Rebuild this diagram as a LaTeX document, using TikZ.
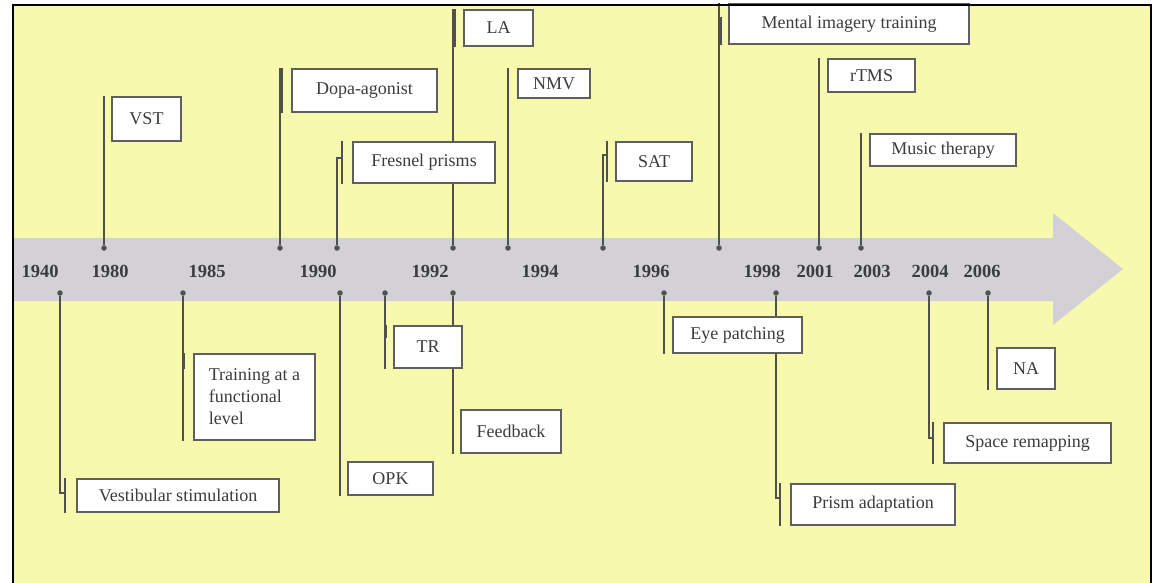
\documentclass[tikz,border=0pt]{standalone}
\usepackage{fontspec}
\setmainfont{Liberation Serif}
\usetikzlibrary{calc}
\definecolor{bgyellow}{RGB}{247,249,172}
\definecolor{shaftgray}{RGB}{211,209,214}
\definecolor{linegray}{RGB}{80,80,80}
\definecolor{boxgray}{RGB}{95,95,95}
\definecolor{txtgray}{RGB}{60,60,60}
\pgfdeclarelayer{bg}
\pgfdeclarelayer{lines}
\pgfsetlayers{bg,lines,main}
\newcommand\evfont{\fontsize{18}{22}\selectfont}
\newcommand\yrfont{\fontsize{18.5}{20}\selectfont\bfseries}
\tikzset{
  evbox/.style={draw=boxgray, fill=white, line width=1.7pt, text=txtgray, inner sep=0pt, font=\evfont},
  conn/.style={draw=linegray, line width=1.5pt},
  evdot/.style={circle, fill=linegray, inner sep=0pt, minimum size=5.5pt},
  year/.style={font=\yrfont, text=txtgray, inner sep=0pt}
}
\begin{document}
\begin{tikzpicture}[x=1pt,y=-1pt]
\clip (0,0) rectangle (1157,583);
\begin{pgfonlayer}{bg}
  \fill[white] (0,0) rectangle (1157,583);
  \fill[bgyellow] (13,5) rectangle (1151,590);
  \fill[shaftgray] (13,238) -- (1053,238) -- (1053,213) -- (1123,269) -- (1053,325) -- (1053,301) -- (13,301) -- cycle;
\end{pgfonlayer}

% years
\foreach \yr/\xx in {1940/40,1980/110,1985/207,1990/318,1992/430,1994/540,1996/651,1998/762,2001/815,2003/872,2004/930,2006/982}
  \node[year] (y\yr) at (\xx,271) {\yr};

% top dots
\node[evdot] (dVST) at (104,248) {};
\node[evdot] (dDopa) at (280,248) {};
\node[evdot] (dFres) at (337,248) {};
\node[evdot] (dLA) at (453,248) {};
\node[evdot] (dNMV) at (508,248) {};
\node[evdot] (dSAT) at (603,248) {};
\node[evdot] (dMent) at (719,248) {};
\node[evdot] (drTMS) at (819,248) {};
\node[evdot] (dMus) at (861,248) {};
% bottom dots
\node[evdot] (dVest) at (60,293) {};
\node[evdot] (dTrain) at (183,293) {};
\node[evdot] (dOPK) at (340,293) {};
\node[evdot] (dTR) at (385,293) {};
\node[evdot] (dFeed) at (453,293) {};
\node[evdot] (dEye) at (664,293) {};
\node[evdot] (dPrism) at (776,293) {};
\node[evdot] (dSpace) at (929,293) {};
\node[evdot] (dNA) at (988,293) {};

% boxes
\node[evbox, minimum width=69pt, minimum height=44pt] (VST) at (146.5,119) {VST};
\node[evbox, minimum width=145pt, minimum height=43pt] (Dopa) at (364.5,90.5) {Dopa-agonist};
\node[evbox, minimum width=142pt, minimum height=41pt] (Fres) at (424,162.5) {Fresnel prisms};
\node[evbox, minimum width=69pt, minimum height=36pt] (LA) at (498.5,28) {LA};
\node[evbox, minimum width=72pt, minimum height=29pt] (NMV) at (554,83.5) {NMV};
\node[evbox, minimum width=76pt, minimum height=39pt] (SAT) at (654,161.5) {SAT};
\node[evbox, minimum width=240pt, minimum height=40pt] (Ment) at (849,24) {Mental imagery training};
\node[evbox, minimum width=87pt, minimum height=33pt] (rTMS) at (871.5,75.5) {rTMS};
\node[evbox, minimum width=146pt, minimum height=32pt] (Mus) at (943,150) {Music therapy};
\node[evbox, minimum width=202pt, minimum height=33pt] (Vest) at (178,495.5) {Vestibular stimulation};
\node[evbox, minimum width=121pt, minimum height=86pt, align=left] (Train) at (254.5,397) {Training at a\\functional\\level};
\node[evbox, minimum width=85pt, minimum height=33pt] (OPK) at (390.5,478.5) {OPK};
\node[evbox, minimum width=68pt, minimum height=42pt] (TR) at (428,347) {TR};
\node[evbox, minimum width=100pt, minimum height=43pt] (Feed) at (511,431.5) {Feedback};
\node[evbox, minimum width=129pt, minimum height=36pt] (Eye) at (737.5,335) {Eye patching};
\node[evbox, minimum width=164pt, minimum height=41pt] (Prism) at (873,504.5) {Prism adaptation};
\node[evbox, minimum width=167pt, minimum height=40pt] (Space) at (1027.5,443) {Space remapping};
\node[evbox, minimum width=58pt, minimum height=41pt] (NA) at (1026,368.5) {NA};

% connectors
\begin{pgfonlayer}{lines}
  % straight, top
  \draw[conn] (dVST) -- (dVST |- VST.north);
  \draw[conn] (dNMV) -- (dNMV |- NMV.north);
  \draw[conn] (drTMS) -- (drTMS |- rTMS.north);
  \draw[conn] (dMus) -- (dMus |- Mus.north);
  \draw[conn] (dDopa) -- (dDopa |- Dopa.north);
  \draw[conn] ([xshift=-9pt]Dopa.north west) -- ([xshift=-9pt]Dopa.south west);
  \draw[conn] (dLA) -- (dLA |- LA.north);
  \draw[conn] ([xshift=-8pt]LA.north west) -- ([xshift=-8pt]LA.south west);
  \draw[conn] (dMent) -- (dMent |- Ment.north);
  \draw[conn] ([xshift=-7pt,yshift=-14pt]Ment.north west) -- ([xshift=-7pt]Ment.south west);
  % bracket, top
  \draw[conn] (dFres) |- ([xshift=-10pt,yshift=4.5pt]Fres.west);
  \draw[conn] ([xshift=-10pt]Fres.north west) -- ([xshift=-10pt]Fres.south west);
  \draw[conn] (dSAT) |- ([xshift=-8pt,yshift=6.5pt]SAT.west);
  \draw[conn] ([xshift=-8pt]SAT.north west) -- ([xshift=-8pt]SAT.south west);
  % straight, bottom
  \draw[conn] (dTrain) -- (dTrain |- Train.south);
  \draw[conn] ([xshift=-9pt]Train.north west) -- ([xshift=-9pt,yshift=-16pt]Train.north west);
  \draw[conn] (dOPK) -- (dOPK |- OPK.south);
  \draw[conn] (dTR) -- (dTR |- TR.south);
  \draw[conn] ([xshift=-7pt]TR.north west) -- ([xshift=-7pt,yshift=-13pt]TR.north west);
  \draw[conn] (dFeed) -- (dFeed |- Feed.south);
  \draw[conn] (dEye) -- (dEye |- Eye.south);
  \draw[conn] (dNA) -- (dNA |- NA.south);
  % bracket, bottom
  \draw[conn] (dVest) |- ([xshift=-11pt,yshift=2.5pt]Vest.west);
  \draw[conn] ([xshift=-11pt]Vest.north west) -- ([xshift=-11pt]Vest.south west);
  \draw[conn] (dPrism) |- ([xshift=-10pt,yshift=6.5pt]Prism.west);
  \draw[conn] ([xshift=-10pt]Prism.north west) -- ([xshift=-10pt]Prism.south west);
  \draw[conn] (dSpace) |- ([xshift=-10pt,yshift=5pt]Space.west);
  \draw[conn] ([xshift=-10pt]Space.north west) -- ([xshift=-10pt]Space.south west);
\end{pgfonlayer}

% frame
\draw[black, line width=2pt] (13,590) -- (13,5) -- (1151,5) -- (1151,590);
\end{tikzpicture}
\end{document}
